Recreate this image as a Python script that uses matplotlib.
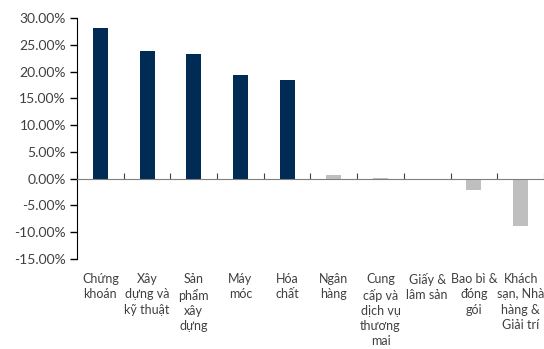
import numpy as np
import matplotlib.pyplot as plt
from matplotlib.ticker import FuncFormatter
import matplotlib.transforms as mtransforms

plt.rcParams['font.family'] = ['Lato', 'Noto Sans', 'DejaVu Sans']

# Ngành và mức thay đổi (%)
sectors = ["Chứng\nkhoán", "Xây\ndựng và\nkỹ thuật", "Sản\nphẩm\nxây\ndựng", "Máy\nmóc",
           "Hóa\nchất", "Ngân\nhàng", "Cung\ncấp và\ndịch vụ\nthương\nmai", "Giấy &\nlâm sản",
           "Bao bì &\nđóng\ngói", "Khách\nsạn, Nhà\nhàng &\nGiải trí"]
values = [28.1, 23.9, 23.3, 19.3, 18.4, 0.7, 0.2, -0.3, -2.1, -8.9]
highlight = [True, True, True, True, True, False, False, False, False, False]

navy = "#002b55"
grey = "#bfbfbf"
text_col = "#404040"

fig = plt.figure(figsize=(5.44, 3.49), dpi=100)
ax = fig.add_axes([0.1415, 0.258, 0.8585, 0.69])

x = np.arange(len(values))
colors = [navy if h else grey for h in highlight]
ax.bar(x, values, width=0.32, color=colors, zorder=2)

ax.set_xlim(-0.5, len(values) - 0.5)
ax.set_ylim(-15, 30)
ax.set_yticks(np.arange(-15, 31, 5))
ax.yaxis.set_major_formatter(FuncFormatter(lambda v, p: f"{v:.2f}%"))

for s in ["top", "right"]:
    ax.spines[s].set_visible(False)
ax.spines["bottom"].set_position(("data", 0))
ax.spines["bottom"].set_color("#7f7f7f")
ax.spines["left"].set_color("black")

ax.set_xticks(np.arange(-0.5, len(values), 1.0))
ax.set_xticklabels([])
ax.tick_params(axis="x", length=4, direction="in", color="#404040", width=0.8)
ax.tick_params(axis="y", length=5, width=1.0, labelsize=10, labelcolor=text_col, pad=3)

# nhãn danh mục ở dưới trục
trans = mtransforms.blended_transform_factory(ax.transData, ax.transAxes)
for xi, lab in zip(x, sectors):
    ax.text(xi, -0.058, lab, transform=trans, ha="center", va="top",
            fontsize=9, color=text_col, linespacing=1.33)

fig.savefig("out.png", dpi=100)
